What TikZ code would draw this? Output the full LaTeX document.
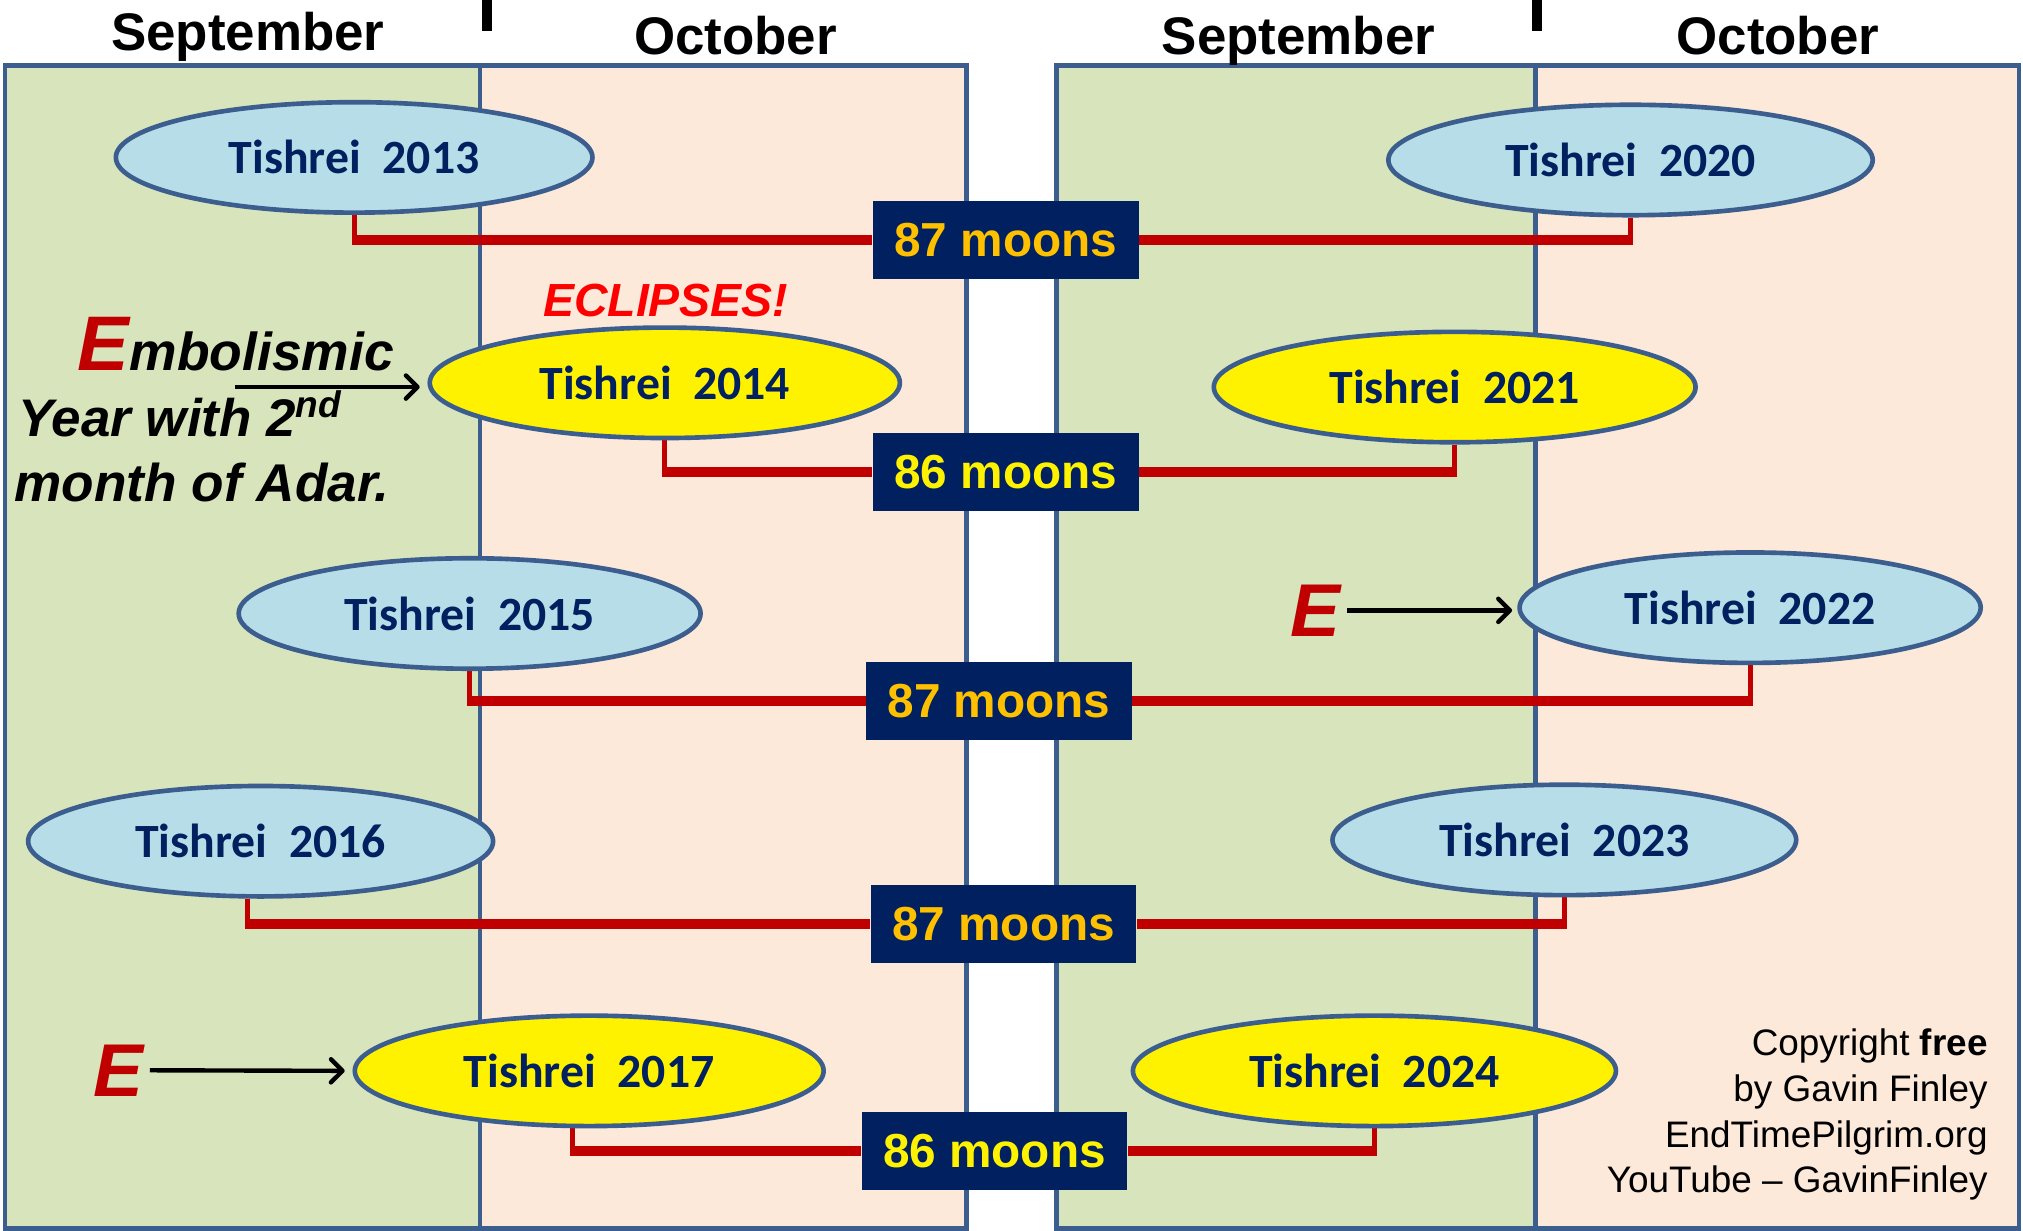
\documentclass[tikz,border=0pt]{standalone}
\usepackage{fontspec}
\setmainfont{Liberation Sans}
\newfontfamily\calfont{Carlito}
\usetikzlibrary{shapes.geometric,arrows.meta,backgrounds}
\definecolor{sepgreen}{HTML}{D8E4BC}
\definecolor{octpeach}{HTML}{FDE9D9}
\definecolor{rim}{HTML}{3B5E8F}
\definecolor{paleblue}{HTML}{B7DEE8}
\definecolor{navy}{HTML}{002060}
\definecolor{gold}{HTML}{FFC000}
\definecolor{darkred}{HTML}{C00000}
\begin{document}
\begin{tikzpicture}[>={Straight Barb[length=4.5pt,width=9pt,round]},x=0.5pt,y=-0.5pt,
		tishrei/.style={ellipse,draw=rim,line width=1.8pt,fill=paleblue,inner sep=0pt,minimum height=42.8pt,text=navy,font=\calfont\bfseries\fontsize{18.5}{20}\selectfont},
		leap/.style={tishrei,fill=yellow},
		moons/.style={fill=navy,minimum width=103pt,minimum height=30.25pt,inner sep=0pt,font=\bfseries\fontsize{18.5}{20}\selectfont},
		month/.style={anchor=base,inner sep=0pt,font=\bfseries\fontsize{20.5}{24}\selectfont},
		bigE/.style={anchor=base,inner sep=2.5pt,text=darkred,font=\bfseries\itshape\fontsize{29}{30}\selectfont},
		stub/.style={draw=darkred,line width=2pt},
		bar/.style={draw=darkred,line width=3.8pt}]
	\useasboundingbox (0,0) rectangle (1568,954);
	% thang
	\node[month] (sepL) at (192,39) {September};
	\node[month] (octL) at (570,42.6) {October};
	\node[month] (sepR) at (1006.5,42.6) {September};
	\node[month] (octR) at (1378,42.6) {October};
	\draw[line width=4pt] (377.5,0) -- (377.5,24);
	\draw[line width=4pt] (1191.5,0) -- (1191.5,24);
	% Tishrei
	\node[tishrei,minimum width=184.7pt] (t2013) at (274.5,122) {Tishrei\ \ 2013};
	\node[leap,minimum width=182.2pt] (t2014) at (515.3,296.7) {Tishrei\ \ 2014};
	\node[tishrei,minimum width=179pt] (t2015) at (364,475.5) {Tishrei\ \ 2015};
	\node[tishrei,minimum width=180.2pt] (t2016) at (202,652) {Tishrei\ \ 2016};
	\node[leap,minimum width=181.7pt] (t2017) at (456.7,830) {Tishrei\ \ 2017};
	\node[tishrei,minimum width=187.7pt] (t2020) at (1263.8,124) {Tishrei\ \ 2020};
	\node[leap,minimum width=186.7pt] (t2021) at (1127.5,300) {Tishrei\ \ 2021};
	\node[tishrei,minimum width=178.7pt] (t2022) at (1356.5,471) {Tishrei\ \ 2022};
	\node[tishrei,minimum width=179.7pt] (t2023) at (1212.5,651) {Tishrei\ \ 2023};
	\node[leap,minimum width=187.2pt] (t2024) at (1065.3,830) {Tishrei\ \ 2024};
	% so thang mat trang
	\node[moons,text=gold] (m87a) at (779.5,186) {87 moons};
	\node[moons,text=yellow] (m86a) at (779.5,365.6) {86 moons};
	\node[moons,text=gold] (m87b) at (774.3,543.3) {87 moons};
	\node[moons,text=gold] (m87c) at (777.8,716.1) {87 moons};
	\node[moons,text=yellow] (m86b) at (770.8,892.1) {86 moons};
	% chu thich
	\node[anchor=base,inner sep=0pt,text=red,font=\bfseries\itshape\fontsize{18}{20}\selectfont] (eclipse) at (516,245) {ECLIPSES!};
	\node[anchor=base west,inner sep=0pt,font=\bfseries\itshape] (emb) at (60,287) {{\fontsize{30}{30}\selectfont\color{darkred}E}\fontsize{20.7}{24}\selectfont mbolismic};
	\node[anchor=base west,inner sep=0pt,font=\bfseries\itshape\fontsize{20.5}{24}\selectfont] (embyear) at (14,338.5) {Year with 2\textsuperscript{nd}};
	\node[anchor=base west,inner sep=0pt,font=\bfseries\itshape\fontsize{20.6}{24}\selectfont] (embadar) at (11,388.8) {month of Adar.};
	\coordinate (embfrom) at (182,300);
	\draw[->,line width=1.7pt,shorten >=3pt] (embfrom) -- (embfrom -| t2014.west);
	\node[bigE] (e2017) at (91.5,849.5) {E};
	\draw[->,line width=1.7pt,shorten >=3pt] (e2017.east) -- (t2017.west);
	\node[bigE] (e2022) at (1019.3,493) {E};
	\draw[->,line width=1.7pt,shorten >=2pt] (e2022.east) -- (e2022.east -| t2022.west);
	\node[anchor=north east,inner sep=0pt,align=right,font=\fontsize{14.3}{17.75}\selectfont] (copy) at (1541,797) {Copyright \textbf{free}\\by Gavin Finley\\EndTimePilgrim.org\\YouTube -- GavinFinley};
	\begin{scope}[on background layer]
		\fill[sepgreen] (4,51) rectangle (372,952);
		\fill[octpeach] (372,51) rectangle (749,952);
		\fill[sepgreen] (819,51) rectangle (1190,952);
		\fill[octpeach] (1190,51) rectangle (1565,952);
		\draw[rim,line width=1.8pt] (4,51) rectangle (749,952) (372,51) -- (372,952);
		\draw[rim,line width=1.8pt] (819,51) rectangle (1565,952) (1190,51) -- (1190,952);
		% noi Tishrei voi so thang
		\draw[stub] (t2013.south) -- ([yshift=-1.9pt]t2013.south |- m87a.west);
		\draw[bar] ([xshift=-1pt]t2013.south |- m87a.west) -- (m87a.west);
		\draw[stub] (t2020.south) -- ([yshift=-1.9pt]t2020.south |- m87a.east);
		\draw[bar] ([xshift=1pt]t2020.south |- m87a.east) -- (m87a.east);
		\draw[stub] (t2014.south) -- ([yshift=-1.9pt]t2014.south |- m86a.west);
		\draw[bar] ([xshift=-1pt]t2014.south |- m86a.west) -- (m86a.west);
		\draw[stub] (t2021.south) -- ([yshift=-1.9pt]t2021.south |- m86a.east);
		\draw[bar] ([xshift=1pt]t2021.south |- m86a.east) -- (m86a.east);
		\draw[stub] (t2015.south) -- ([yshift=-1.9pt]t2015.south |- m87b.west);
		\draw[bar] ([xshift=-1pt]t2015.south |- m87b.west) -- (m87b.west);
		\draw[stub] (t2022.south) -- ([yshift=-1.9pt]t2022.south |- m87b.east);
		\draw[bar] ([xshift=1pt]t2022.south |- m87b.east) -- (m87b.east);
		\draw[stub] ([xshift=-5pt]t2016.south) -- ([xshift=-5pt,yshift=-1.9pt]t2016.south |- m87c.west);
		\draw[bar] ([xshift=-6pt]t2016.south |- m87c.west) -- (m87c.west);
		\draw[stub] (t2023.south) -- ([yshift=-1.9pt]t2023.south |- m87c.east);
		\draw[bar] ([xshift=1pt]t2023.south |- m87c.east) -- (m87c.east);
		\draw[stub] ([xshift=-6.6pt]t2017.south) -- ([xshift=-6.6pt,yshift=-1.9pt]t2017.south |- m86b.west);
		\draw[bar] ([xshift=-7.6pt]t2017.south |- m86b.west) -- (m86b.west);
		\draw[stub] (t2024.south) -- ([yshift=-1.9pt]t2024.south |- m86b.east);
		\draw[bar] ([xshift=1pt]t2024.south |- m86b.east) -- (m86b.east);
	\end{scope}
\end{tikzpicture}
\end{document}
